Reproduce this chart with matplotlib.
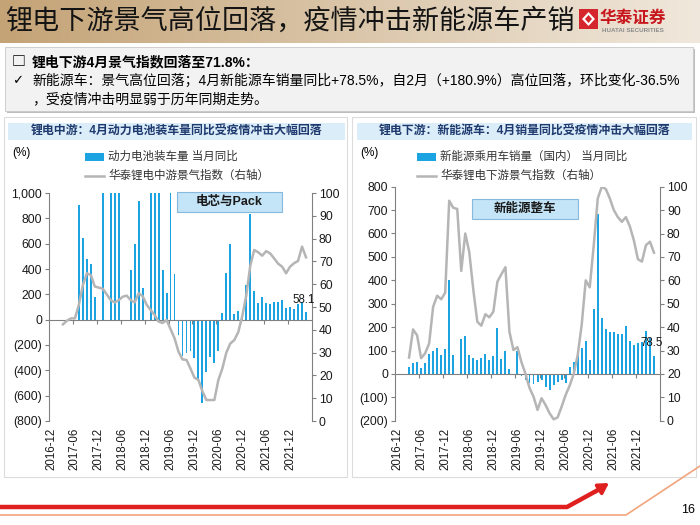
import matplotlib
matplotlib.use('Agg')
import matplotlib.pyplot as plt
import numpy as np
from matplotlib.patches import Rectangle, Polygon

nan = np.nan
# ---------------- data ----------------
months = ['2016-12', '2017-06', '2017-12', '2018-06', '2018-12', '2019-06',
          '2019-12', '2020-06', '2020-12', '2021-06', '2021-12']
label_step = 6

# left: power battery installation YoY (%), monthly from 2016-12 to 2022-04
battery_yoy = [nan, nan, nan, nan, nan, nan, nan,
               905, 641, 477, 443, 180, nan, 1000, nan, 1000, 1000, 1000, nan, nan,
               395, 594, 933, 249, nan, 1000, 1000, 1000, 395, 209, 1000, 360,
               -120, -285, -265, -245, -300, -470, -658, -413, -294, -342, -245,
               52, 368, 594, 42, 70, 15, 273, 832, 223, 130, 177, 132, 125, 143,
               138, 159, 95, 98, 85, 127, 138, 58.1]
midstream_index = [nan, nan, nan,
                   42.4, 44, 45, 45, 51, 59.6, 64.8, 64, 59, 58.5, 58, 55.5, 53, 52,
                   53, 54.5, 55, 53, 52, 56, 54.8, 51, 48.7, 46.5, 43.6, 43, 44.3,
                   40.3, 36.3, 30.4, 27, 26.8, 23, 19, 18, 13, 9.2, 9.2, 9.2, 18, 23,
                   30, 34, 35.5, 39, 46, 55, 68, 75, 74, 72.5, 74.5, 73.5, 71.3, 69,
                   67.7, 64.8, 67.7, 69.2, 70.2, 76.5, 71.8]

# right: NEV passenger car domestic sales YoY (%)
nev_yoy = [nan, nan, nan,
           30, 46, 50, 24, 47, 85, 98, 112, 80, 107, 402, 80, nan, 148, 160, 82,
           66, 60, 67, 85, 60, 77, 197, 64, 100, 23, nan, 100,
           -8, -25, -40, -43, -33, -26, -57, -68, -47, -33, -26, -37,
           31, 49, 84, 110, 141, 60, 277, 683, 241, 191, 181, 177, 171, 171, 206,
           139, 124, 131, 136, 184, 153, 78.5]
downstream_index = [nan, nan, nan,
                    27, 39, 36.5, 26.7, 28.8, 33, 48.7, 53.4, 51.9, 54.7, 94, 91, 90.5,
                    64, 80, 72, 56, 42.3, 40.6, 45.5, 44.2, 46.6, 59.4, 62.6, 65.6, 38,
                    30.2, 31.4, 25, 20, 14, 10.3, 4.6, 9.6, 6.7, 3.2, 0.6, 1.4, 6, 11,
                    15, 20, 28, 41, 60, 57, 75, 95, 100, 99, 95, 90, 87, 85, 87, 83, 77,
                    69, 68, 75, 76.5, 71.8]

# ---------------- style ----------------
FAM = ['Liberation Sans', 'Noto Sans CJK SC', 'DejaVu Sans']
CJK = ['Noto Sans CJK SC', 'DejaVu Sans']
BAR = '#1ca3e2'
LINE = '#b5b5b5'
AXC = '#808080'
plt.rcParams['font.family'] = FAM

fig = plt.figure(figsize=(7, 5.25), dpi=100)
bg = fig.add_axes([0, 0, 1, 1], zorder=0)
bg.set_xlim(0, 700)
bg.set_ylim(525, 0)
bg.axis('off')

# header gradient
c1 = np.array([196, 163, 118]) / 255
c2 = np.array([240, 232, 220]) / 255
g = np.linspace(0, 1, 256)[:, None]
img = (c1 + (c2 - c1) * g).reshape(1, 256, 3)
bg.imshow(img, extent=[0, 700, 43, 0], aspect='auto', zorder=0)
bg.set_xlim(0, 700)
bg.set_ylim(525, 0)
bg.text(5, 21, '锂电下游景气高位回落，疫情冲击新能源车产销', family=CJK, fontsize=19.5,
        color='#141414', va='center', ha='left')

# logo
bg.add_patch(Rectangle((579, 9), 19, 20, fc='#d6262d', ec='none', zorder=3))
bg.add_patch(Polygon([(588.5, 12), (595, 19), (588.5, 26), (582, 19)], closed=True,
                     fc='white', ec='none', zorder=4))
bg.add_patch(Polygon([(588.5, 15), (592, 19), (588.5, 23), (585, 19)], closed=True,
                     fc='#d6262d', ec='none', zorder=5))
bg.text(633, 18, '华泰证券', family=CJK, fontsize=12, fontweight='bold', color='#c8161d',
        ha='center', va='center')
bg.text(633, 31, 'HUATAI SECURITIES', family=FAM, fontsize=4.5, fontweight='bold',
        color='#8a8a8a', ha='center', va='center')

# summary box
bg.add_patch(Rectangle((7, 49), 688, 64, fc='#bdbdbd', ec='none', zorder=1))
bg.add_patch(Rectangle((5, 47), 688, 64, fc='#f2f2f2', ec='#c8c8c8', lw=0.6, zorder=2))
bg.text(12, 62, '□', family=CJK, fontsize=10, fontweight='bold', ha='left', va='center', zorder=3)
bg.text(32, 62, '锂电下游4月景气指数回落至71.8%：', fontsize=10, fontweight='bold',
        ha='left', va='center', zorder=3)
bg.text(12, 81, '✓', family=['DejaVu Sans'], fontsize=9.5, ha='left', va='center', zorder=3)
bg.text(32, 81, '新能源车：景气高位回落；4月新能源车销量同比+78.5%，自2月（+180.9%）高位回落，环比变化-36.5%',
        fontsize=10, ha='left', va='center', zorder=3)
bg.text(32, 99, '，受疫情冲击明显弱于历年同期走势。', fontsize=10, ha='left', va='center', zorder=3)

# panels
for x0, x1 in [(4, 347), (352, 696)]:
    bg.add_patch(Rectangle((x0, 117), x1 - x0, 360, fc='white', ec='#dcdcdc', lw=0.8, zorder=1))

# panel titles
for (x0, x1, t) in [(8, 345, '锂电中游：4月动力电池装车量同比受疫情冲击大幅回落'),
                    (357, 692, '锂电下游：新能源车：4月销量同比受疫情冲击大幅回落')]:
    bg.add_patch(Rectangle((x0, 123), x1 - x0, 17, fc='#dbedf9', ec='none', zorder=2))
    bg.text((x0 + x1) / 2, 131.5, t, fontsize=8.6, fontweight='bold', color='#1f3a6e',
            ha='center', va='center', zorder=3)

# legends & (%) labels
def legend(x_patch, txt_bar, txt_line):
    bg.add_patch(Rectangle((x_patch, 153), 19, 8, fc=BAR, ec='none', zorder=3))
    bg.text(x_patch + 23, 157, txt_bar, fontsize=8.3, color='#333333', ha='left', va='center', zorder=3)
    bg.plot([x_patch, x_patch + 19], [176, 176], color=LINE, lw=1.8, zorder=3)
    bg.text(x_patch + 23, 176, txt_line, fontsize=8.3, color='#333333', ha='left', va='center', zorder=3)

legend(85, '动力电池装车量 当月同比', '华泰锂电中游景气指数（右轴）')
legend(417, '新能源乘用车销量（国内） 当月同比', '华泰锂电下游景气指数（右轴）')
bg.text(21, 153, '(%)', fontsize=8.5, ha='center', va='center', zorder=3)
bg.text(369, 153, '(%)', fontsize=8.5, ha='center', va='center', zorder=3)

# footer
bg.plot([0, 567, 598], [507, 507, 490], color='#e01f1f', lw=3.2, solid_capstyle='butt',
        solid_joinstyle='miter', zorder=3)
bg.annotate('', xy=(609, 483), xytext=(595, 492),
            arrowprops=dict(arrowstyle='-|>,head_length=0.6,head_width=0.35', color='#e01f1f',
                            lw=2.5, shrinkA=0, shrinkB=0), zorder=4)
bg.plot([0, 626, 700], [515, 515, 466], color='#f3a47c', lw=1.2, zorder=3)
bg.text(688, 510, '16', fontsize=9, ha='center', va='center', zorder=3)


def fmt(v):
    return f'({abs(v):,.0f})' if v < 0 else f'{v:,.0f}'


def make_chart(rect, bars, line, ymin, ymax, ystep, label_val, label_box, box_rect):
    ax = fig.add_axes(rect, zorder=2)
    ax.patch.set_alpha(0)
    n = len(bars)
    x = np.arange(n)
    ax.bar(x, bars, width=0.48, color=BAR, zorder=2)
    ax.set_xlim(-0.5, 65.5)
    ax.set_ylim(ymin, ymax)
    yt = np.arange(ymin, ymax + 1, ystep)
    ax.set_yticks(yt)
    ax.set_yticklabels([fmt(v) for v in yt])
    ax.set_xticks(np.arange(0, label_step * len(months), label_step))
    ax.set_xticklabels(months, rotation=90)
    ax.tick_params(axis='x', length=0, pad=5, labelsize=8.3, labelcolor='#1a1a1a')
    ax.tick_params(axis='y', direction='out', length=3, width=0.8, color=AXC,
                   labelsize=8.8, labelcolor='#1a1a1a', pad=2)
    for s in ['top', 'bottom', 'right']:
        ax.spines[s].set_visible(False)
    ax.spines['left'].set_color(AXC)
    ax.spines['left'].set_linewidth(0.8)
    # zero line with tick marks between categories every 6 months
    ax.axhline(0, color=AXC, lw=0.8, zorder=3)
    tpos = np.arange(label_step - 0.5, n, label_step)
    ax.plot(tpos, np.zeros_like(tpos), linestyle='none', marker=3, markersize=3,
            color=AXC, markeredgewidth=0.8, zorder=3)

    axr = ax.twinx()
    axr.set_zorder(3)
    axr.patch.set_alpha(0)
    axr.plot(x, line, color=LINE, lw=1.8, zorder=4)
    axr.set_ylim(0, 100)
    axr.set_yticks(np.arange(0, 101, 10))
    axr.tick_params(axis='y', direction='out', length=3, width=0.8, color=AXC,
                    labelsize=8.8, labelcolor='#1a1a1a', pad=2)
    for s in ['top', 'bottom', 'left']:
        axr.spines[s].set_visible(False)
    axr.spines['right'].set_color(AXC)
    axr.spines['right'].set_linewidth(0.8)
    axr.annotate(f'{label_val}', xy=(n - 1, label_val), xycoords=ax.transData,
                 xytext=(-2, 9), textcoords='offset points', ha='center', va='center',
                 fontsize=8.3, color='#1a1a1a', zorder=6)
    # label box
    bx0, by0, bx1, by1 = box_rect
    bg.add_patch(Rectangle((bx0, by0), bx1 - bx0, by1 - by0, fc='#c4e4f7', ec='#86b9dc',
                           lw=0.8, zorder=5))
    t = bg.text((bx0 + bx1) / 2, (by0 + by1) / 2, label_box, fontsize=9, fontweight='bold',
                color='#1a1a1a', ha='center', va='center', zorder=6)
    return ax, axr


make_chart([49 / 700, 1 - 421 / 525, 263 / 700, 228 / 525], battery_yoy, midstream_index,
           -800, 1000, 200, 58.1, '电芯与Pack', (177, 192, 282, 212))
make_chart([395 / 700, 1 - 420.7 / 525, 265 / 700, 234 / 525], nev_yoy, downstream_index,
           -200, 800, 100, 78.5, '新能源整车', (472, 199, 578, 219))

# bring label boxes above chart axes
bg.set_zorder(0)
fig.savefig('out.png', dpi=100)
